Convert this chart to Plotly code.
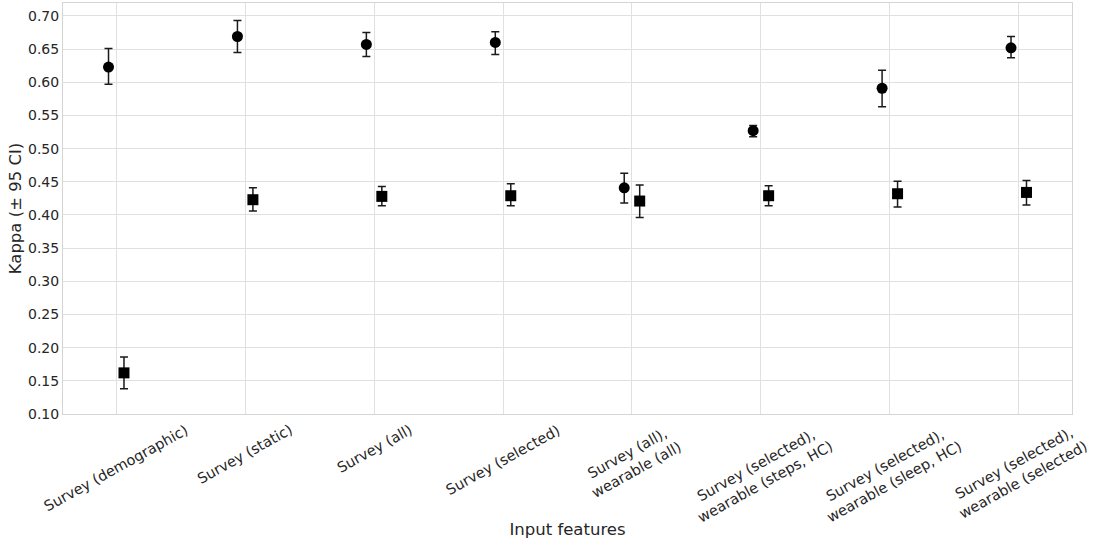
import plotly.graph_objects as go

# Input feature sets (x categories)
categories = [
    "Survey (demographic)",
    "Survey (static)",
    "Survey (all)",
    "Survey (selected)",
    "Survey (all),<br>wearable (all)",
    "Survey (selected),<br>wearable (steps, HC)",
    "Survey (selected),<br>wearable (sleep, HC)",
    "Survey (selected),<br>wearable (selected)",
]

# Circle series: kappa with 95% CI bounds
kappa_a = [0.623, 0.669, 0.657, 0.660, 0.441, 0.527, 0.591, 0.652]
upper_a = [0.651, 0.693, 0.675, 0.676, 0.463, 0.535, 0.618, 0.669]
lower_a = [0.597, 0.645, 0.639, 0.642, 0.418, 0.518, 0.563, 0.637]

# Square series: kappa with 95% CI bounds
kappa_b = [0.162, 0.423, 0.428, 0.429, 0.421, 0.429, 0.432, 0.434]
upper_b = [0.186, 0.441, 0.443, 0.447, 0.445, 0.444, 0.451, 0.452]
lower_b = [0.138, 0.406, 0.414, 0.414, 0.396, 0.414, 0.412, 0.415]

y_ticks = [0.10, 0.15, 0.20, 0.25, 0.30, 0.35, 0.40, 0.45, 0.50, 0.55, 0.60, 0.65, 0.70]

FONT = "DejaVu Sans"
TEXT = "#262626"
GRID = "#e0e0e0"
DODGE = 0.06

idx = list(range(len(categories)))


def series(kappa, upper, lower, dx, symbol, name):
    return go.Scatter(
        x=[i + dx for i in idx],
        y=kappa,
        mode="markers",
        name=name,
        marker=dict(symbol=symbol, size=11, color="black"),
        error_y=dict(
            type="data",
            symmetric=False,
            array=[u - k for u, k in zip(upper, kappa)],
            arrayminus=[k - l for k, l in zip(kappa, lower)],
            color="#1a1a1a",
            thickness=1.5,
            width=4,
        ),
        showlegend=False,
    )


fig = go.Figure()
fig.add_trace(series(kappa_a, upper_a, lower_a, -DODGE, "circle", "Series 1"))
fig.add_trace(series(kappa_b, upper_b, lower_b, DODGE, "square", "Series 2"))

# Rotated category labels, centred under each tick
for i, label in zip(idx, categories):
    fig.add_annotation(
        x=i, y=0, xref="x", yref="paper",
        text=label, showarrow=False,
        xanchor="center", yanchor="top", yshift=-5,
        textangle=-29,
        font=dict(family=FONT, size=14.5, color=TEXT),
    )

fig.update_layout(
    width=1094,
    height=545,
    margin=dict(l=63, r=22, t=3, b=131),
    paper_bgcolor="white",
    plot_bgcolor="white",
    font=dict(family=FONT, color=TEXT),
)

fig.update_xaxes(
    range=[-0.413, len(categories) - 1 + 0.413],
    tickvals=idx,
    ticktext=[""] * len(categories),
    showgrid=True, gridcolor=GRID, gridwidth=1,
    zeroline=False,
    showline=True, linecolor="#d4d4d4", linewidth=1, mirror=True,
    ticks="",
    automargin=False,
    title=dict(text="Input features", font=dict(family=FONT, size=16.5, color=TEXT), standoff=107),
)
fig.update_yaxes(
    range=[0.10, 0.7195],
    tickvals=y_ticks,
    ticktext=[f"{v:.2f}" for v in y_ticks],
    tickfont=dict(family=FONT, size=14, color=TEXT),
    showgrid=True, gridcolor=GRID, gridwidth=1,
    zeroline=False,
    showline=True, linecolor="#d4d4d4", linewidth=1, mirror=True,
    ticks="", ticklen=0,
    automargin=False,
    title=dict(text="Kappa (± 95 CI)", font=dict(family=FONT, size=16.5, color=TEXT), standoff=2),
)

fig.write_html("out.html")
